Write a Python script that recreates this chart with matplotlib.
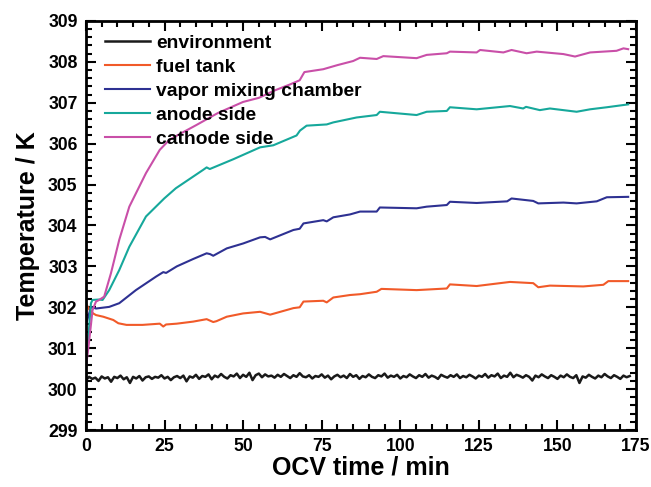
import matplotlib
matplotlib.use("Agg")
import matplotlib.pyplot as plt
from matplotlib.ticker import MultipleLocator

plt.rcParams['font.family'] = ['Liberation Sans', 'DejaVu Sans']
plt.rcParams['font.weight'] = 'bold'

# environment, read every minute (noisy trace around 300.3 K)
t_env = list(range(0, 174))
T_env = [
    300.22, 300.30, 300.25, 300.28, 300.20, 300.31, 300.26, 300.29, 300.18, 300.30,
    300.27, 300.33, 300.24, 300.29, 300.15, 300.30, 300.26, 300.32, 300.21, 300.29,
    300.31, 300.25, 300.30, 300.28, 300.34, 300.26, 300.30, 300.22, 300.29, 300.32,
    300.27, 300.33, 300.19, 300.31, 300.28, 300.35, 300.25, 300.32, 300.30, 300.36,
    300.24, 300.33, 300.29, 300.37, 300.30, 300.26, 300.34, 300.31, 300.38, 300.27,
    300.35, 300.30, 300.40, 300.22, 300.34, 300.38, 300.29, 300.36, 300.31, 300.33,
    300.28, 300.35, 300.30, 300.37, 300.32, 300.27, 300.34, 300.30, 300.39, 300.31,
    300.29, 300.34, 300.26, 300.32, 300.30, 300.36, 300.28, 300.33, 300.24, 300.31,
    300.35, 300.29, 300.33, 300.27, 300.37, 300.30, 300.34, 300.25, 300.32, 300.29,
    300.36, 300.30, 300.27, 300.34, 300.31, 300.38, 300.28, 300.33, 300.30, 300.35,
    300.26, 300.32, 300.29, 300.36, 300.31, 300.27, 300.34, 300.30, 300.37, 300.28,
    300.33, 300.30, 300.25, 300.35, 300.31, 300.28, 300.34, 300.30, 300.36, 300.27,
    300.32, 300.29, 300.35, 300.31, 300.26, 300.33, 300.30, 300.37, 300.28, 300.34,
    300.31, 300.38, 300.27, 300.33, 300.30, 300.40, 300.29, 300.35, 300.32, 300.28,
    300.34, 300.30, 300.21, 300.33, 300.29, 300.36, 300.31, 300.27, 300.34, 300.30,
    300.25, 300.33, 300.29, 300.36, 300.30, 300.27, 300.34, 300.15, 300.31, 300.28,
    300.35, 300.30, 300.26, 300.33, 300.29, 300.37, 300.31, 300.27, 300.34, 300.30,
    300.25, 300.33, 300.29, 300.32,
]

# fuel tank
t_fuel = [0, 1, 2.3, 3.2, 5.5, 8.7, 10.3, 12.9, 18, 23.5, 24.6, 25.5, 28.9, 34.1,
          38.4, 40.5, 41.5, 44.8, 50, 55.4, 58.6, 60, 66, 68, 69.2, 75.5, 76.6,
          78.7, 84, 87.2, 92.5, 94, 105.2, 114.8, 115.8, 124.3, 134.9, 142.3,
          143.9, 147.6, 158.2, 164.6, 166.2, 172.5]
T_fuel = [302.10, 301.95, 301.85, 301.81, 301.77, 301.69, 301.61, 301.57, 301.57,
          301.60, 301.53, 301.58, 301.60, 301.65, 301.71, 301.64, 301.66, 301.77,
          301.85, 301.89, 301.82, 301.85, 301.98, 302.00, 302.14, 302.16, 302.12,
          302.24, 302.30, 302.32, 302.38, 302.45, 302.42, 302.46, 302.56, 302.52,
          302.62, 302.59, 302.49, 302.53, 302.51, 302.55, 302.64, 302.64]

# vapor mixing chamber
t_vap = [0, 1.6, 3.2, 7.4, 10.6, 15.9, 22.3, 24.6, 25.5, 28.9, 34.1, 38.4, 39.5,
         40.5, 44.8, 50, 55.4, 57, 58.6, 66, 68, 69.2, 75.5, 76.6, 78.7, 84, 87.2,
         92.5, 93.5, 105.2, 108.4, 114.8, 115.8, 124.3, 134, 135.4, 142.3, 143.9,
         151.9, 156.1, 162.5, 165.7, 172.5]
T_vap = [301.57, 302.01, 301.97, 302.01, 302.10, 302.42, 302.75, 302.86, 302.84,
         303.00, 303.18, 303.32, 303.30, 303.26, 303.44, 303.56, 303.71, 303.72,
         303.66, 303.89, 303.92, 304.05, 304.13, 304.10, 304.20, 304.27, 304.34,
         304.34, 304.44, 304.42, 304.46, 304.50, 304.58, 304.55, 304.59, 304.66,
         304.60, 304.54, 304.56, 304.54, 304.59, 304.69, 304.70]

# anode side
t_an = [0, 0.8, 1.6, 2.1, 4.2, 5.3, 7.4, 10.6, 13.8, 19.1, 24.9, 28.6, 37.3, 38.4,
        39.4, 46.9, 55.4, 59.6, 67, 68.1, 70.2, 76.6, 78.7, 86.1, 92.5, 93.5,
        105.2, 108.4, 114.8, 115.8, 124.3, 134.9, 139.1, 140, 144.4, 147.6, 156.1,
        160.4, 165.7, 172.5]
T_an = [300.52, 301.30, 302.10, 302.18, 302.19, 302.18, 302.42, 302.91, 303.48,
        304.22, 304.66, 304.91, 305.36, 305.42, 305.38, 305.62, 305.91, 305.96,
        306.20, 306.32, 306.44, 306.47, 306.52, 306.64, 306.70, 306.78, 306.70,
        306.78, 306.80, 306.89, 306.84, 306.92, 306.86, 306.90, 306.82, 306.86,
        306.78, 306.84, 306.89, 306.96]

# cathode side
t_ca = [0, 1.06, 2.1, 3.2, 4.2, 5.8, 7.95, 10.6, 13.8, 19.1, 23.5, 26.5, 29, 35, 42,
        50, 55, 60, 65, 68, 69.5, 75.5, 80, 85, 87.2, 92.5, 94.6, 105.2, 108.4,
        114.8, 115.8, 124.3, 125.4, 132.8, 135.4, 140.2, 143.4, 151.9, 155.6,
        160.4, 168.8, 171, 172.5]
T_ca = [300.52, 301.20, 301.93, 302.14, 302.18, 302.26, 302.83, 303.65, 304.46,
        305.28, 305.85, 306.09, 306.20, 306.45, 306.75, 307.02, 307.12, 307.30,
        307.45, 307.55, 307.75, 307.82, 307.92, 308.02, 308.10, 308.07, 308.14,
        308.09, 308.17, 308.21, 308.25, 308.23, 308.29, 308.23, 308.29, 308.21,
        308.25, 308.19, 308.13, 308.23, 308.27, 308.33, 308.31]

fig = plt.figure(figsize=(6.51, 4.87), dpi=100)
ax = fig.add_axes([0.132, 0.117, 0.845, 0.840])

ax.plot(t_env, T_env, color='#1a1a1a', lw=1.8, label='environment')
ax.plot(t_fuel, T_fuel, color='#f15a29', lw=1.5, label='fuel tank')
ax.plot(t_vap, T_vap, color='#2e3192', lw=1.5, label='vapor mixing chamber')
ax.plot(t_an, T_an, color='#16a89b', lw=1.5, label='anode side')
ax.plot(t_ca, T_ca, color='#c94fa8', lw=1.5, label='cathode side')

ax.set_xlim(0, 175)
ax.set_ylim(299, 309)
ax.xaxis.set_major_locator(MultipleLocator(25))
ax.xaxis.set_minor_locator(MultipleLocator(5))
ax.yaxis.set_major_locator(MultipleLocator(1))
ax.yaxis.set_minor_locator(MultipleLocator(0.2))
ax.tick_params(which='both', direction='in', top=True, right=True, width=1.5,
               labelsize=12.7, pad=6)
ax.tick_params(which='major', length=7)
ax.tick_params(which='minor', length=4)
for s in ax.spines.values():
    s.set_linewidth(2)

ax.set_xlabel('OCV time / min', fontsize=18, fontweight='bold', labelpad=0)
ax.set_ylabel('Temperature / K', fontsize=18, fontweight='bold', labelpad=6)

ax.legend(loc='upper left', bbox_to_anchor=(0.01, 1.0), frameon=False,
          fontsize=13.9, handlelength=2.35, handletextpad=0.3, labelspacing=0.33,
          borderaxespad=0.3)

fig.savefig('out.png', dpi=100)
